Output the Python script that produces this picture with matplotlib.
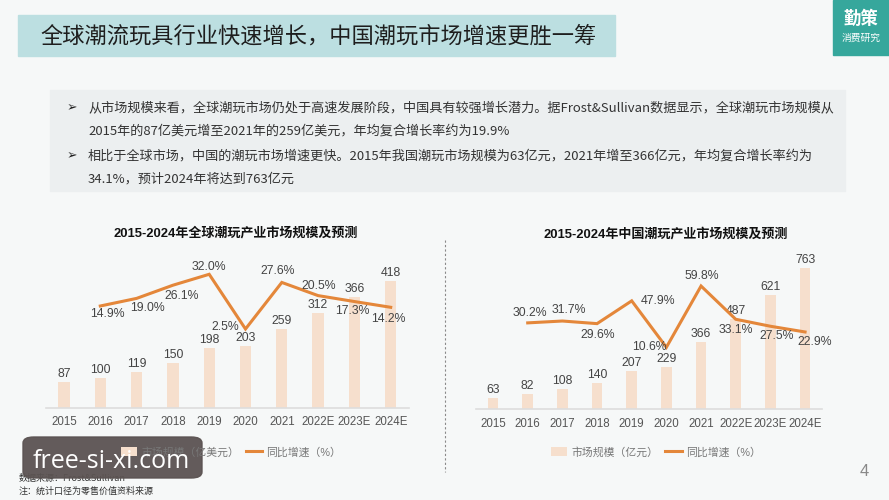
import matplotlib
matplotlib.use('Agg')
import matplotlib.pyplot as plt
from matplotlib.patches import Rectangle, FancyBboxPatch
from matplotlib.lines import Line2D

plt.rcParams['font.family'] = ['Liberation Sans', 'Noto Sans CJK SC', 'DejaVu Sans']

# data
years = ['2015', '2016', '2017', '2018', '2019', '2020', '2021', '2022E', '2023E', '2024E']
global_size = [87, 100, 119, 150, 198, 203, 259, 312, 366, 418]
global_growth = [14.9, 19.0, 26.1, 32.0, 2.5, 27.6, 20.5, 17.3, 14.2]
china_size = [63, 82, 108, 140, 207, 229, 366, 487, 621, 763]
china_growth = [30.2, 31.7, 29.6, 47.9, 10.6, 59.8, 33.1, 27.5, 22.9]

title = '全球潮流玩具行业快速增长，中国潮玩市场增速更胜一筹'
bullet_lines = [
    '从市场规模来看，全球潮玩市场仍处于高速发展阶段，中国具有较强增长潜力。据Frost&Sullivan数据显示，全球潮玩市场规模从',
    '2015年的87亿美元增至2021年的259亿美元，年均复合增长率约为19.9%',
    '相比于全球市场，中国的潮玩市场增速更快。2015年我国潮玩市场规模为63亿元，2021年增至366亿元，年均复合增长率约为',
    '34.1%，预计2024年将达到763亿元',
]

BAR_C = '#f6dfcd'
LINE_C = '#e4873a'
BG = '#f6f8f8'
W, H = 889, 500


def fx(x):
    return x / W


def fy(y):
    return 1 - y / H


fig = plt.figure(figsize=(8.89, 5), dpi=100, facecolor=BG)

# header banner + logo
fig.patches.append(Rectangle((fx(18), fy(56)), fx(597), 41 / H, transform=fig.transFigure,
                             color='#bcdfe1', zorder=0))
fig.text(fx(40), fy(36), title, fontsize=16, color='#1e1e1e', va='center', family=['Noto Sans CJK SC'])
fig.patches.append(Rectangle((fx(833), fy(55)), fx(56), 55 / H, transform=fig.transFigure,
                             color='#36a79c', zorder=0))
fig.text(fx(861), fy(19), '勤策', fontsize=12.5, color='white', weight='bold', ha='center', va='center',
         family=['Noto Sans CJK SC'])
fig.text(fx(861), fy(38), '消费研究', fontsize=7, color='white', ha='center', va='center',
         family=['Noto Sans CJK SC'])

# bullet box
fig.patches.append(Rectangle((fx(50), fy(191)), fx(795), 101 / H, transform=fig.transFigure,
                             color='#eceff0', zorder=0))
for txt, y, bullet in zip(bullet_lines, [107.5, 131.5, 156, 179.5], [True, False, True, False]):
    if bullet:
        fig.text(fx(67), fy(y), '➢', fontsize=9, color='#222', va='center', family=['DejaVu Sans'])
    fig.text(fx(88), fy(y), txt, fontsize=9.45, color='#333', va='center',
             family=['Noto Sans CJK SC', 'DejaVu Sans'])

# separator
fig.add_artist(Line2D([fx(445), fx(445)], [fy(240), fy(472)], color='#8a8a8a', lw=0.8,
                      linestyle=(0, (2, 2)), transform=fig.transFigure))


def draw_chart(rect, sizes, growth, bar_top, g_lim, offsets, chart_title, title_xy, unit, leg_xy):
    ax = fig.add_axes(rect)
    ax.set_facecolor('none')
    x = list(range(len(sizes)))
    bars = ax.bar(x, sizes, width=0.31, color=BAR_C, zorder=1)
    ax.set_xlim(-0.5, len(sizes) - 0.5)
    ax.set_ylim(0, bar_top)
    for xi, v in zip(x, sizes):
        ax.annotate(str(v), (xi, v), xytext=(0, 8), textcoords='offset pixels', ha='center', va='center',
                    fontsize=8.8, color='#444')
    ax.set_xticks(x)
    ax.set_xticklabels(years, fontsize=8.3, color='#555')
    ax.tick_params(axis='x', length=0, pad=6)
    ax.set_yticks([])
    for s in ['top', 'left', 'right']:
        ax.spines[s].set_visible(False)
    ax.spines['bottom'].set_color('#dddddd')
    ax.spines['bottom'].set_linewidth(1.2)

    ax2 = ax.twinx()
    gx = x[1:]
    line, = ax2.plot(gx, growth, color=LINE_C, lw=2.2, zorder=3, solid_joinstyle='miter')
    ax2.set_ylim(*g_lim)
    ax2.set_yticks([])
    for s in ax2.spines.values():
        s.set_visible(False)
    for xi, v, (dx, dy) in zip(gx, growth, offsets):
        ax2.annotate(f'{v:.1f}%', (xi, v), xytext=(dx, -dy), textcoords='offset pixels', ha='center',
                     va='center', fontsize=8.8, color='#444')

    fig.text(fx(title_xy[0]), fy(title_xy[1]), chart_title, fontsize=9.4, weight='bold', ha='center',
             va='center', color='#111')
    leg = fig.legend([bars, line], [f'市场规模（{unit}）', '同比增速（%）'], loc='center',
                     bbox_to_anchor=(fx(leg_xy[0]), fy(leg_xy[1])), ncol=2, frameon=False, fontsize=7.8,
                     handlelength=1.5, handletextpad=0.4, columnspacing=0.6, handleheight=0.8)
    for t in leg.get_texts():
        t.set_color('#777')
    return ax


left_offsets = [(7, 8), (11, 10), (9, 11), (0, -7), (-20, -2), (-4, -11), (1, -10), (-2, 9), (-2, 12)]
right_offsets = [(2, -10), (6, -11), (1, 11), (26, 0), (-17, 0), (1, -10), (0, 11), (6, 10), (10, 10)]

draw_chart([fx(45.85), fy(408), 363 / W, 148 / H], global_size, global_growth, 488, (-40.1, 39.7),
           left_offsets, '2015-2024年全球潮玩产业市场规模及预测', (236, 233), '亿美元', (231, 452))
draw_chart([fx(475.7), fy(409.3), 346.7 / W, 149.3 / H], china_size, china_growth, 808, (-39.2, 80.7),
           right_offsets, '2015-2024年中国潮玩产业市场规模及预测', (666, 234), '亿元', (656, 452))

# footer
fig.text(fx(19), fy(479), '数据来源：Frost&Sullivan', fontsize=6.5, color='#333', va='center',
         family=['Noto Sans CJK SC'])
fig.text(fx(19), fy(491), '注：统计口径为零售价值资料来源', fontsize=6.5, color='#333', va='center',
         family=['Noto Sans CJK SC'])
fig.text(fx(864), fy(472), '4', fontsize=12, color='#888', ha='center', va='center')

# watermark (covers part of the left legend, as in the source image)
fig.patches.append(FancyBboxPatch((fx(23), fy(478)), fx(179), 41 / H, transform=fig.transFigure,
                                  boxstyle='round,pad=0.0,rounding_size=0.012', color='#5b5352', alpha=0.95,
                                  zorder=5))
fig.text(fx(111), fy(461), 'free-si-xi.com', fontsize=18, color='white', ha='center', va='center',
         family=['Open Sans'], zorder=6)

fig.savefig('out.png', dpi=100, facecolor=BG)
